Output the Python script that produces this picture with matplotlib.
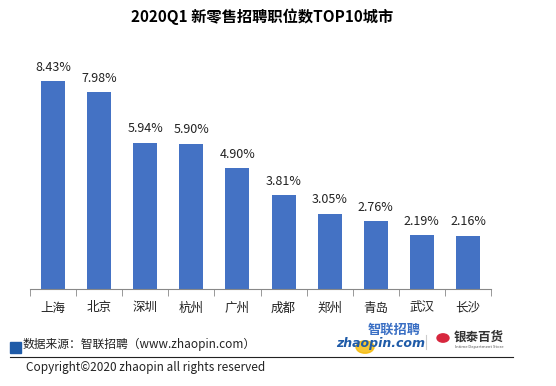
# 2020Q1 新零售招聘职位数TOP10城市 - 柱状图
from matplotlib import pyplot as plt
from matplotlib.patches import Rectangle, Circle
from matplotlib.lines import Line2D

plt.rcParams['font.family'] = ['Noto Sans CJK SC', 'DejaVu Sans']

cities = ['上海', '北京', '深圳', '杭州', '广州', '成都', '郑州', '青岛', '武汉', '长沙']
shares = [8.43, 7.98, 5.94, 5.90, 4.90, 3.81, 3.05, 2.76, 2.19, 2.16]
labels = ['8.43%', '7.98%', '5.94%', '5.90%', '4.90%', '3.81%', '3.05%', '2.76%', '2.19%', '2.16%']

W, H = 556, 386
fig = plt.figure(figsize=(W / 100, H / 100), dpi=100)
ax = fig.add_axes([30 / W, 1 - 289 / H, 461 / W, 234 / H])

x = list(range(len(cities)))
ax.bar(x, shares, width=0.52, color='#4472C4', align='center')
for i, (v, t) in enumerate(zip(shares, labels)):
    ax.text(i, v + 0.3, t, ha='center', va='bottom', fontsize=9, color='#222222')

ax.set_xlim(-0.5, len(cities) - 0.5)
ax.set_ylim(0, 9.5)
ax.set_yticks([])
for s in ['top', 'right', 'left']:
    ax.spines[s].set_visible(False)
ax.spines['bottom'].set_color('#888888')
ax.set_xticks(x)
ax.set_xticklabels(cities, fontsize=9, color='#222222')
ax.tick_params(axis='x', length=0, pad=9)
# tick marks at category boundaries
ax.set_xticks([i - 0.5 for i in range(len(cities) + 1)], minor=True)
ax.tick_params(axis='x', which='minor', length=5, color='#888888', direction='out')

fig.text(262 / W, 1 - 17 / H, '2020Q1 新零售招聘职位数TOP10城市', ha='center', va='center',
         fontsize=11, fontweight='bold')

# footer
fig.add_artist(Rectangle((10 / W, 1 - 353 / H), 11 / W, 11 / H, color='#1F5BA8',
                         transform=fig.transFigure))
fig.text(23 / W, 1 - 344 / H, '数据来源：智联招聘（www.zhaopin.com）', ha='left', va='center',
         fontsize=8.5, color='#222222')
fig.add_artist(Line2D([10 / W, 513 / W], [1 - 357 / H, 1 - 357 / H], color='#222222',
                      lw=0.8, transform=fig.transFigure))
fig.text(26 / W, 1 - 368 / H, 'Copyright©2020 zhaopin all rights reserved', ha='left',
         va='center', fontsize=8.5, color='#222222')

# logos (text approximations)
fig.add_artist(Circle((365 / W, 1 - 347 / H), 9 / W, color='#F5B800', alpha=0.8,
                      transform=fig.transFigure))
fig.text(336 / W, 1 - 344 / H, 'zhaopin.com', ha='left', va='center', fontsize=9,
         fontweight='bold', style='italic', color='#1F5BA8', family=['DejaVu Sans'])
fig.text(368 / W, 1 - 330 / H, '智联招聘', ha='left', va='center', fontsize=9.5,
         fontweight='bold', color='#3A6FC4')
fig.add_artist(Line2D([426 / W, 426 / W], [1 - 335 / H, 1 - 349 / H], color='#CCCCCC',
                      lw=0.8, transform=fig.transFigure))
fig.add_artist(Circle((443 / W, 1 - 338 / H), 6 / W, color='#D7263D',
                      transform=fig.transFigure))
fig.text(454 / W, 1 - 337 / H, '银泰百货', ha='left', va='center', fontsize=9,
         fontweight='bold', color='#333333')
fig.text(455 / W, 1 - 347 / H, 'Intime Department Store', ha='left', va='center',
         fontsize=3, color='#555555')

fig.savefig('out.png', dpi=100)
